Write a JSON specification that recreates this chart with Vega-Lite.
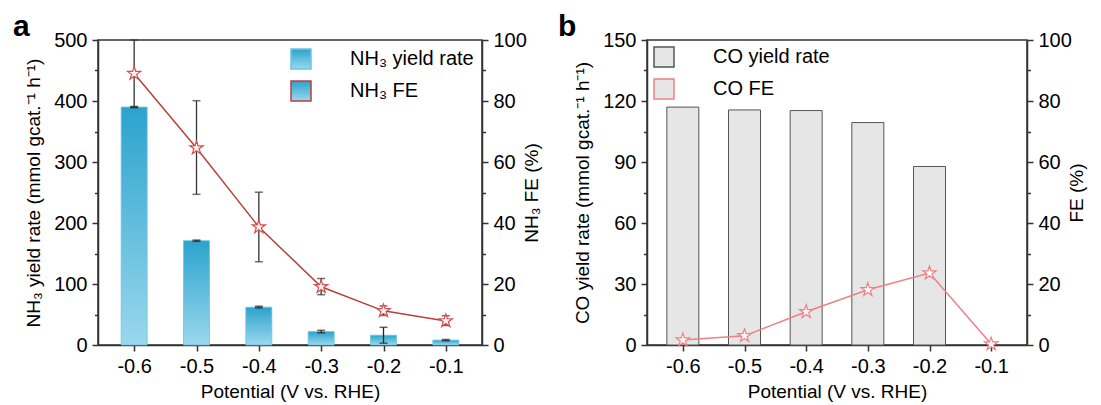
{
  "$schema": "https://vega.github.io/schema/vega-lite/v6.json",
  "padding": {"left": 12, "top": 11, "right": 2, "bottom": 2},
  "spacing": 14,
  "resolve": {"scale": {"stroke": "independent"}, "legend": {"stroke": "independent"}},
  "config": {
    "font": "Liberation Sans",
    "view": {"stroke": "#333", "strokeWidth": 1.5},
    "axis": {"grid": false, "domainColor": "#333", "domainWidth": 1.5, "tickColor": "#333", "tickWidth": 1.5, "labelFontSize": 20, "labelColor": "black", "titleFontSize": 19, "titleFontWeight": "normal", "titleColor": "black", "labelOverlap": false, "labelFlush": false, "labelPadding": 5},
    "legend": {"labelFontSize": 20, "labelColor": "black", "symbolSize": 400, "labelOffset": 38, "rowPadding": 6, "padding": 0, "title": null},
    "title": {"fontSize": 30, "fontWeight": "bold", "anchor": "start", "frame": "group", "color": "black"}
  },
  "datasets": {
    "nh3": [
      {"p": -0.6, "yield": 390, "ylo": 389, "yhi": 391, "fe": 89.0, "felo": 78.0, "fehi": 100.0},
      {"p": -0.5, "yield": 171, "ylo": 170, "yhi": 172, "fe": 64.6, "felo": 49.4, "fehi": 80.1},
      {"p": -0.4, "yield": 62, "ylo": 61, "yhi": 63.5, "fe": 38.7, "felo": 27.3, "fehi": 50.1},
      {"p": -0.3, "yield": 22, "ylo": 20, "yhi": 24, "fe": 19.1, "felo": 16.5, "fehi": 21.8},
      {"p": -0.2, "yield": 16, "ylo": 3, "yhi": 29, "fe": 11.2, "felo": 9.7, "fehi": 12.8},
      {"p": -0.1, "yield": 8, "ylo": 7, "yhi": 9, "fe": 7.9, "felo": 6.4, "fehi": 9.6}
    ],
    "co": [
      {"p": -0.6, "yield": 117, "fe": 1.6},
      {"p": -0.5, "yield": 115.6, "fe": 3.0},
      {"p": -0.4, "yield": 115.3, "fe": 10.9},
      {"p": -0.3, "yield": 109.4, "fe": 18.1},
      {"p": -0.2, "yield": 87.8, "fe": 23.6},
      {"p": -0.1, "yield": null, "fe": 0.3}
    ]
  },
  "hconcat": [
    {
      "title": {"text": "a", "dx": -85, "dy": 9, "baseline": "alphabetic", "offset": -27},
      "width": 384,
      "height": 305,
      "data": {"name": "nh3"},
      "encoding": {
        "x": {"field": "p", "type": "quantitative", "scale": {"domain": [-0.65, -0.05], "nice": false, "zero": false},
          "axis": {"values": [-0.6, -0.5, -0.4, -0.3, -0.2, -0.1], "labelExpr": "replace(format(datum.value, '.1f'), '\u2212', '-')", "title": "Potential (V vs. RHE)", "tickSize": 6, "titlePadding": 6}}
      },
      "layer": [
        {
          "layer": [
            {
              "mark": {"type": "bar", "width": 26, "strokeWidth": 0.8, "fill": {"gradient": "linear", "x1": 0, "y1": 0, "x2": 0, "y2": 1, "stops": [{"offset": 0, "color": "#2ba3cd"}, {"offset": 1, "color": "#9ad8ed"}]}},
              "encoding": {
                "y": {"field": "yield", "type": "quantitative", "scale": {"domain": [0, 500], "nice": false},
                  "axis": {"orient": "left", "title": "NH₃ yield rate (mmol gcat.⁻¹ h⁻¹)", "values": [0, 50, 100, 150, 200, 250, 300, 350, 400, 450, 500], "labelExpr": "datum.value % 100 == 0 ? datum.label : ''", "tickSize": {"condition": {"test": "datum.value % 100 != 0", "value": 3.5}, "value": 6}, "titlePadding": 10}},
                "stroke": {"datum": "NH₃ yield rate", "type": "nominal", "scale": {"domain": ["NH₃ yield rate", "NH₃ FE"], "range": ["#6cc4e4", "#b5413c"]},
                  "legend": {"orient": "top-right", "offset": 8}}
              }
            },
            {
              "mark": {"type": "rule", "color": "#222", "strokeWidth": 1.3},
              "encoding": {"y": {"field": "ylo", "type": "quantitative", "scale": {"domain": [0, 500], "nice": false},
                  "axis": {"orient": "left", "title": "NH₃ yield rate (mmol gcat.⁻¹ h⁻¹)", "values": [0, 50, 100, 150, 200, 250, 300, 350, 400, 450, 500], "labelExpr": "datum.value % 100 == 0 ? datum.label : ''", "tickSize": {"condition": {"test": "datum.value % 100 != 0", "value": 3.5}, "value": 6}, "titlePadding": 10}},
                "y2": {"field": "yhi"}}
            },
            {
              "mark": {"type": "tick", "orient": "horizontal", "size": 8, "thickness": 1.5, "color": "#222"},
              "encoding": {"y": {"field": "yhi", "type": "quantitative", "scale": {"domain": [0, 500], "nice": false},
                  "axis": {"orient": "left", "title": "NH₃ yield rate (mmol gcat.⁻¹ h⁻¹)", "values": [0, 50, 100, 150, 200, 250, 300, 350, 400, 450, 500], "labelExpr": "datum.value % 100 == 0 ? datum.label : ''", "tickSize": {"condition": {"test": "datum.value % 100 != 0", "value": 3.5}, "value": 6}, "titlePadding": 10}}}
            },
            {
              "mark": {"type": "tick", "orient": "horizontal", "size": 8, "thickness": 1.5, "color": "#222"},
              "encoding": {"y": {"field": "ylo", "type": "quantitative", "scale": {"domain": [0, 500], "nice": false},
                  "axis": {"orient": "left", "title": "NH₃ yield rate (mmol gcat.⁻¹ h⁻¹)", "values": [0, 50, 100, 150, 200, 250, 300, 350, 400, 450, 500], "labelExpr": "datum.value % 100 == 0 ? datum.label : ''", "tickSize": {"condition": {"test": "datum.value % 100 != 0", "value": 3.5}, "value": 6}, "titlePadding": 10}}}
            }
          ]
        },
        {
          "layer": [
            {
              "mark": {"type": "rule", "color": "#333", "strokeWidth": 1.3},
              "encoding": {"y": {"field": "felo", "type": "quantitative", "scale": {"domain": [0, 100], "nice": false},
                "axis": {"orient": "right", "title": "NH₃ FE (%)", "titleAngle": 270, "values": [0, 10, 20, 30, 40, 50, 60, 70, 80, 90, 100], "labelExpr": "datum.value % 20 == 0 ? datum.label : ''", "tickSize": {"condition": {"test": "datum.value % 20 != 0", "value": 3.5}, "value": 6}, "titlePadding": 15}},
                "y2": {"field": "fehi"}}
            },
            {
              "mark": {"type": "tick", "orient": "horizontal", "size": 8, "thickness": 1.5, "color": "#333"},
              "encoding": {"y": {"field": "fehi", "type": "quantitative", "scale": {"domain": [0, 100], "nice": false},
                "axis": {"orient": "right", "title": "NH₃ FE (%)", "titleAngle": 270, "values": [0, 10, 20, 30, 40, 50, 60, 70, 80, 90, 100], "labelExpr": "datum.value % 20 == 0 ? datum.label : ''", "tickSize": {"condition": {"test": "datum.value % 20 != 0", "value": 3.5}, "value": 6}, "titlePadding": 15}}}
            },
            {
              "mark": {"type": "tick", "orient": "horizontal", "size": 8, "thickness": 1.5, "color": "#333"},
              "encoding": {"y": {"field": "felo", "type": "quantitative", "scale": {"domain": [0, 100], "nice": false},
                "axis": {"orient": "right", "title": "NH₃ FE (%)", "titleAngle": 270, "values": [0, 10, 20, 30, 40, 50, 60, 70, 80, 90, 100], "labelExpr": "datum.value % 20 == 0 ? datum.label : ''", "tickSize": {"condition": {"test": "datum.value % 20 != 0", "value": 3.5}, "value": 6}, "titlePadding": 15}}}
            },
            {
              "mark": {"type": "line", "strokeWidth": 1.5},
              "encoding": {"y": {"field": "fe", "type": "quantitative", "scale": {"domain": [0, 100], "nice": false},
                "axis": {"orient": "right", "title": "NH₃ FE (%)", "titleAngle": 270, "values": [0, 10, 20, 30, 40, 50, 60, 70, 80, 90, 100], "labelExpr": "datum.value % 20 == 0 ? datum.label : ''", "tickSize": {"condition": {"test": "datum.value % 20 != 0", "value": 3.5}, "value": 6}, "titlePadding": 15}},
                "stroke": {"datum": "NH₃ FE", "type": "nominal", "scale": {"domain": ["NH₃ yield rate", "NH₃ FE"], "range": ["#6cc4e4", "#b5413c"]}}}
            },
            {
              "mark": {"type": "point", "shape": "M0,-1L0.2245,-0.309L0.951,-0.309L0.363,0.118L0.588,0.809L0,0.382L-0.588,0.809L-0.363,0.118L-0.951,-0.309L-0.2245,-0.309Z", "size": 196, "filled": true, "fill": "#fff3f3", "stroke": "#d2504f", "strokeWidth": 1.2, "opacity": 1},
              "encoding": {"y": {"field": "fe", "type": "quantitative", "scale": {"domain": [0, 100], "nice": false},
                "axis": {"orient": "right", "title": "NH₃ FE (%)", "titleAngle": 270, "values": [0, 10, 20, 30, 40, 50, 60, 70, 80, 90, 100], "labelExpr": "datum.value % 20 == 0 ? datum.label : ''", "tickSize": {"condition": {"test": "datum.value % 20 != 0", "value": 3.5}, "value": 6}, "titlePadding": 15}}}
            }
          ]
        }
      ],
      "resolve": {"scale": {"y": "independent"}}
    },
    {
      "title": {"text": "b", "dx": -89, "dy": 9, "baseline": "alphabetic", "offset": -27},
      "width": 380,
      "height": 305,
      "data": {"name": "co"},
      "encoding": {
        "x": {"field": "p", "type": "quantitative", "scale": {"domain": [-0.65, -0.05], "nice": false, "zero": false},
          "axis": {"values": [-0.6, -0.5, -0.4, -0.3, -0.2, -0.1], "labelExpr": "replace(format(datum.value, '.1f'), '\u2212', '-')", "title": "Potential (V vs. RHE)", "tickSize": 6, "titlePadding": 6}}
      },
      "layer": [
        {
          "mark": {"type": "bar", "width": 32, "strokeWidth": 1, "fill": "#e6e6e6"},
          "encoding": {
            "y": {"field": "yield", "type": "quantitative", "scale": {"domain": [0, 150], "nice": false},
              "axis": {"orient": "left", "title": "CO yield rate (mmol gcat.⁻¹ h⁻¹)", "values": [0, 15, 30, 45, 60, 75, 90, 105, 120, 135, 150], "labelExpr": "datum.value % 30 == 0 ? datum.label : ''", "tickSize": {"condition": {"test": "datum.value % 30 != 0", "value": 3.5}, "value": 6}, "titlePadding": 10}},
            "stroke": {"datum": "CO yield rate", "type": "nominal", "scale": {"domain": ["CO yield rate", "CO FE"], "range": ["#555555", "#ef7f85"]},
              "legend": {"orient": "top-left", "offset": 6}}
          }
        },
        {
          "layer": [
            {
              "mark": {"type": "line", "strokeWidth": 1.5},
              "encoding": {"y": {"field": "fe", "type": "quantitative", "scale": {"domain": [0, 100], "nice": false},
                "axis": {"orient": "right", "title": "FE (%)", "titleAngle": 270, "values": [0, 10, 20, 30, 40, 50, 60, 70, 80, 90, 100], "labelExpr": "datum.value % 20 == 0 ? datum.label : ''", "tickSize": {"condition": {"test": "datum.value % 20 != 0", "value": 3.5}, "value": 6}, "titlePadding": 15}},
                "stroke": {"datum": "CO FE", "type": "nominal", "scale": {"domain": ["CO yield rate", "CO FE"], "range": ["#555555", "#ef7f85"]}}}
            },
            {
              "mark": {"type": "point", "shape": "M0,-1L0.2245,-0.309L0.951,-0.309L0.363,0.118L0.588,0.809L0,0.382L-0.588,0.809L-0.363,0.118L-0.951,-0.309L-0.2245,-0.309Z", "size": 196, "filled": true, "fill": "white", "stroke": "#ef7f85", "strokeWidth": 1.2, "opacity": 1},
              "encoding": {"y": {"field": "fe", "type": "quantitative", "scale": {"domain": [0, 100], "nice": false},
                "axis": {"orient": "right", "title": "FE (%)", "titleAngle": 270, "values": [0, 10, 20, 30, 40, 50, 60, 70, 80, 90, 100], "labelExpr": "datum.value % 20 == 0 ? datum.label : ''", "tickSize": {"condition": {"test": "datum.value % 20 != 0", "value": 3.5}, "value": 6}, "titlePadding": 15}}}
            }
          ]
        }
      ],
      "resolve": {"scale": {"y": "independent"}}
    }
  ]
}
